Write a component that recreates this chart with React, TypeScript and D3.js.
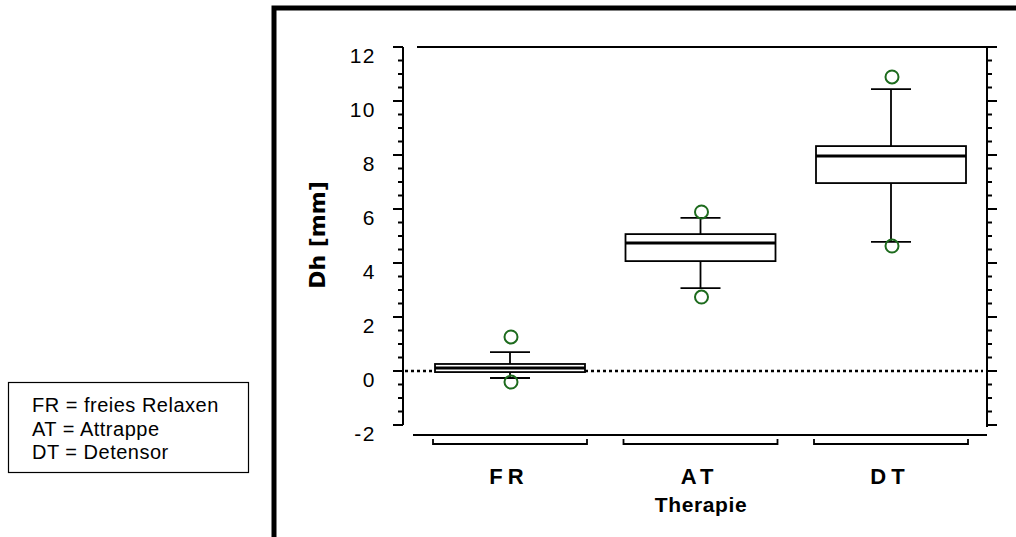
import * as d3 from "d3";

const W = 1016;
const H = 537;

const CATS = ["FR", "AT", "DT"];
const Q1 = [-0.04, 4.07, 6.96];
const MEDIAN = [0.11, 4.74, 7.96];
const Q3 = [0.26, 5.07, 8.33];
const WHISK_LO = [-0.26, 3.07, 4.78];
const WHISK_HI = [0.7, 5.67, 10.44];
const OUT_LO = [-0.41, 2.74, 4.63];
const OUT_HI = [1.26, 5.89, 10.89];
const MAJOR_TICKS = [-2, 0, 2, 4, 6, 8, 10, 12];
const LEGEND = ["FR = freies Relaxen", "AT = Attrappe", "DT = Detensor"];

const LEFT = 403;
const RIGHT = 987;

const y = d3.scaleLinear().domain([-2, 12]).range([425, 47]);
const x = d3.scalePoint<string>().domain(CATS).range([510, 891]);

const BOX_W = 150;
const CAP_W = 40;
const SANS = "'Liberation Sans', Arial, sans-serif";

export default function App() {
  const minor = d3.range(-2, 12.01, 0.5).filter((v) => !MAJOR_TICKS.includes(v));

  return (
    <svg
      width={W}
      height={H}
      style={{ position: "absolute", left: 0, top: 0, background: "#fff" }}
    >
      {/* outer frame */}
      <path d={`M274,${H} V8 H${W}`} fill="none" stroke="#000" strokeWidth={5} />

      {/* legend */}
      <rect x={8.5} y={382.5} width={240} height={90} fill="#fff" stroke="#000" strokeWidth={1.2} />
      {LEGEND.map((t, i) => (
        <text
          key={t}
          x={32}
          y={412 + i * 23.5}
          fontFamily={SANS}
          fontSize={20}
          letterSpacing={0.5}
        >
          {t}
        </text>
      ))}

      {/* left axis */}
      <line x1={LEFT} x2={LEFT} y1={y(12)} y2={y(-2)} stroke="#000" strokeWidth={2} />
      {MAJOR_TICKS.map((v) => (
        <g key={"l" + v}>
          <line x1={LEFT - 10} x2={LEFT} y1={y(v)} y2={y(v)} stroke="#000" strokeWidth={2} />
          <text
            x={376}
            y={y(v) + 15.5}
            textAnchor="end"
            fontFamily={SANS}
            fontSize={21}
            letterSpacing={1.5}
          >
            {v}
          </text>
        </g>
      ))}
      {minor.map((v) => (
        <line key={"lm" + v} x1={LEFT - 5} x2={LEFT} y1={y(v)} y2={y(v)} stroke="#000" strokeWidth={2} />
      ))}

      {/* right axis */}
      <line x1={RIGHT} x2={RIGHT} y1={y(12)} y2={y(-2) + 2} stroke="#000" strokeWidth={2} />
      {MAJOR_TICKS.map((v) => (
        <line key={"r" + v} x1={RIGHT} x2={RIGHT + 10} y1={y(v)} y2={y(v)} stroke="#000" strokeWidth={2} />
      ))}
      {minor.map((v) => (
        <line key={"rm" + v} x1={RIGHT} x2={RIGHT + 5} y1={y(v)} y2={y(v)} stroke="#000" strokeWidth={2} />
      ))}

      {/* top and bottom frame lines */}
      <line x1={417} x2={RIGHT + 10} y1={y(12)} y2={y(12)} stroke="#000" strokeWidth={2} />
      <line x1={413} x2={RIGHT} y1={435} y2={435} stroke="#000" strokeWidth={2} />

      {/* zero reference */}
      <line
        x1={LEFT + 2}
        x2={RIGHT - 4}
        y1={y(0)}
        y2={y(0)}
        stroke="#000"
        strokeWidth={2.5}
        strokeDasharray="3 3"
      />

      {/* y label */}
      <text
        transform="translate(325,235) rotate(-90)"
        textAnchor="middle"
        fontFamily="'DejaVu Sans', sans-serif"
        fontWeight="bold"
        fontSize={22}
      >
        Dh [mm]
      </text>

      {/* boxes */}
      {CATS.map((c, i) => {
        const cx = x(c)!;
        return (
          <g key={c}>
            <line x1={cx} x2={cx} y1={y(Q3[i])} y2={y(WHISK_HI[i])} stroke="#000" strokeWidth={1.8} />
            <line x1={cx} x2={cx} y1={y(Q1[i])} y2={y(WHISK_LO[i])} stroke="#000" strokeWidth={1.8} />
            <line
              x1={cx - CAP_W / 2}
              x2={cx + CAP_W / 2}
              y1={y(WHISK_HI[i])}
              y2={y(WHISK_HI[i])}
              stroke="#000"
              strokeWidth={1.8}
            />
            <line
              x1={cx - CAP_W / 2}
              x2={cx + CAP_W / 2}
              y1={y(WHISK_LO[i])}
              y2={y(WHISK_LO[i])}
              stroke="#000"
              strokeWidth={1.8}
            />
            <rect
              x={cx - BOX_W / 2}
              y={y(Q3[i])}
              width={BOX_W}
              height={y(Q1[i]) - y(Q3[i])}
              fill="#fff"
              stroke="#000"
              strokeWidth={1.8}
            />
            <line
              x1={cx - BOX_W / 2}
              x2={cx + BOX_W / 2}
              y1={y(MEDIAN[i])}
              y2={y(MEDIAN[i])}
              stroke="#000"
              strokeWidth={3}
            />
            <circle cx={cx + 1} cy={y(OUT_HI[i])} r={6.5} fill="none" stroke="#1d6b1d" strokeWidth={2} />
            <circle cx={cx + 1} cy={y(OUT_LO[i])} r={6.5} fill="none" stroke="#1d6b1d" strokeWidth={2} />

            {/* category bracket */}
            <path
              d={`M${cx - 77},439 V444 H${cx + 77} V439`}
              fill="none"
              stroke="#000"
              strokeWidth={1.8}
            />
            <text
              x={cx - 1}
              y={484}
              textAnchor="middle"
              fontFamily={SANS}
              fontWeight="bold"
              fontSize={22}
              letterSpacing={5}
            >
              {c}
            </text>
          </g>
        );
      })}

      <text
        x={701}
        y={512}
        textAnchor="middle"
        fontFamily={SANS}
        fontWeight="bold"
        fontSize={21}
        letterSpacing={0.6}
      >
        Therapie
      </text>
    </svg>
  );
}
